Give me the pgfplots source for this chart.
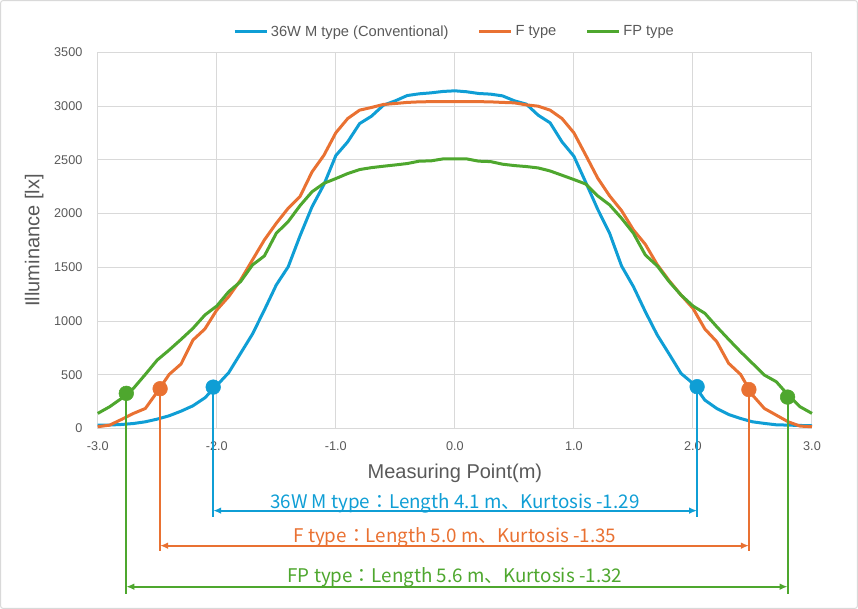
\documentclass[border=0pt]{standalone}
\usepackage{fontspec}
\setmainfont{Liberation Sans}
\newfontfamily\cjk{Noto Sans CJK JP}
\usepackage{pgfplots}
\usepackage{pgfplotstable}
\pgfplotsset{compat=1.18}
\usetikzlibrary{arrows.meta}
\definecolor{cblue}{HTML}{0F9ED5}
\definecolor{corange}{HTML}{E97132}
\definecolor{cgreen}{HTML}{4EA72E}
\definecolor{cgrid}{HTML}{D9D9D9}
\definecolor{ctext}{HTML}{595959}

\pgfplotstableread{
x     m     f     fp
-3.0  30    16    140
-2.9  32    31    202
-2.8  37    84    280
-2.7  46    140   373
-2.6  62    186   503
-2.5  87    340   637
-2.4  118   503   730
-2.3  161   600   829
-2.2  211   823   932
-2.1  285   926   1056
-2.0  400   1103  1140
-1.9  519   1227  1273
-1.8  699   1382  1367
-1.7  879   1569  1522
-1.6  1103  1755  1606
-1.5  1336  1910  1817
-1.4  1505  2050  1926
-1.3  1795  2160  2075
-1.2  2063  2388  2203
-1.1  2270  2543  2282
-1.0  2540  2752  2326
-0.9  2668  2885  2373
-0.8  2838  2963  2410
-0.7  2907  2988  2428
-0.6  3009  3016  2441
-0.5  3050  3025  2453
-0.4  3099  3035  2466
-0.3  3115  3040  2488
-0.2  3124  3042  2491
-0.1  3137  3042  2509
0.0   3143  3042  2509
0.1   3134  3042  2509
0.2   3118  3042  2488
0.3   3112  3040  2484
0.4   3096  3035  2460
0.5   3050  3031  2447
0.6   3019  3012  2438
0.7   2916  3000  2425
0.8   2845  2963  2397
0.9   2668  2885  2357
1.0   2534  2752  2317
1.1   2290  2543  2275
1.2   2040  2330  2165
1.3   1817  2165  2081
1.4   1513  2028  1957
1.5   1320  1848  1817
1.6   1087  1714  1615
1.7   870   1525  1513
1.8   693   1376  1367
1.9   512   1242  1242
2.0   419   1118  1140
2.1   264   926   1072
2.2   186   808   947
2.3   130   606   829
2.4   93    503   714
2.5   62    311   606
2.6   47    186   497
2.7   34    124   435
2.8   31    62    311
2.9   28    22    202
3.0   25    16    140
}\datatable

\begin{document}
\begin{tikzpicture}
\useasboundingbox (0,0) rectangle (643.5pt,456.75pt);
\draw[cgrid, line width=0.75pt, rounded corners=2pt] (0.4pt,0.4pt) rectangle (643.1pt,456.35pt);
\begin{axis}[
  at={(73.3pt,135.4pt)}, anchor=south west,
  width=535.7pt, height=282pt, scale only axis,
  xmin=-3, xmax=3, ymin=0, ymax=3500,
  clip=false,
  xtick={-3,-2,-1,0,1,2,3},
  xticklabels={-3.0,-2.0,-1.0,0.0,1.0,2.0,3.0},
  ytick={0,500,1000,1500,2000,2500,3000,3500},
  yticklabels={0,500,1000,1500,2000,2500,3000,3500},
  major tick length=0pt,
  grid=major,
  grid style={cgrid, line width=0.75pt},
  axis line style={cgrid, line width=0.75pt},
  tick label style={text=ctext, font=\fontsize{9.5}{11}\selectfont},
  xticklabel style={yshift=-6pt},
  yticklabel style={xshift=-8pt},
  xlabel={Measuring Point(m)},
  ylabel={Illuminance [lx]},
  label style={text=ctext, font=\fontsize{15}{17}\selectfont},
  xlabel style={at={(axis description cs:0.5,-0.119)}, anchor=center},
  ylabel style={at={(axis description cs:-0.089,0.5)}, anchor=center},
  legend style={draw=none, fill=none, legend columns=3,
    at={(axis description cs:0.5,1.0546)}, anchor=center,
    font=\fontsize{11}{13}\selectfont, text=ctext,
    /tikz/every even column/.append style={column sep=20pt}},
  legend image code/.code={\draw[#1, line width=2.25pt] (0pt,0pt) -- (24pt,0pt);},
]
\addplot[cblue, line width=2.25pt] table[x=x, y=m] {\datatable};
\addlegendentry{36W M type (Conventional)}
\addplot[corange, line width=2.25pt] table[x=x, y=f] {\datatable};
\addlegendentry{F type}
\addplot[cgreen, line width=2.25pt] table[x=x, y=fp] {\datatable};
\addlegendentry{FP type}

% vertical drop lines
\addplot[cblue, line width=1.5pt, forget plot] coordinates {(-2.03,385) (-2.03,-824)};
\addplot[cblue, line width=1.5pt, forget plot] coordinates {(2.035,389) (2.035,-824)};
\addplot[corange, line width=1.5pt, forget plot] coordinates {(-2.476,370) (-2.476,-1145)};
\addplot[corange, line width=1.5pt, forget plot] coordinates {(2.47,362) (2.47,-1145)};
\addplot[cgreen, line width=1.5pt, forget plot] coordinates {(-2.76,327) (-2.76,-1545)};
\addplot[cgreen, line width=1.5pt, forget plot] coordinates {(2.795,292) (2.795,-1545)};

% markers
\addplot[only marks, mark=*, mark size=5.5pt, cblue, forget plot] coordinates {(-2.03,385) (2.035,389)};
\addplot[only marks, mark=*, mark size=5.5pt, corange, forget plot] coordinates {(-2.476,370) (2.47,362)};
\addplot[only marks, mark=*, mark size=5.5pt, cgreen, forget plot] coordinates {(-2.76,327) (2.795,292)};

% arrows
\addplot[cblue, line width=1.4pt, {Latex[length=6pt,width=5pt]}-{Latex[length=6pt,width=5pt]}, forget plot] coordinates {(-2.03,-765) (2.035,-765)};
\addplot[corange, line width=1.4pt, {Latex[length=6pt,width=5pt]}-{Latex[length=6pt,width=5pt]}, forget plot] coordinates {(-2.476,-1091) (2.47,-1091)};
\addplot[cgreen, line width=1.4pt, {Latex[length=6pt,width=5pt]}-{Latex[length=6pt,width=5pt]}, forget plot] coordinates {(-2.76,-1473) (2.795,-1473)};

\node[text=cblue, font=\cjk\fontsize{14.1}{16}\selectfont] at (axis cs:0,-694) {36W M type：Length 4.1 m、Kurtosis -1.29};
\node[text=corange, font=\cjk\fontsize{14.1}{16}\selectfont] at (axis cs:0,-1010) {F type：Length 5.0 m、Kurtosis -1.35};
\node[text=cgreen, font=\cjk\fontsize{14.1}{16}\selectfont] at (axis cs:0,-1383) {FP type：Length 5.6 m、Kurtosis -1.32};
\end{axis}
\end{tikzpicture}
\end{document}
